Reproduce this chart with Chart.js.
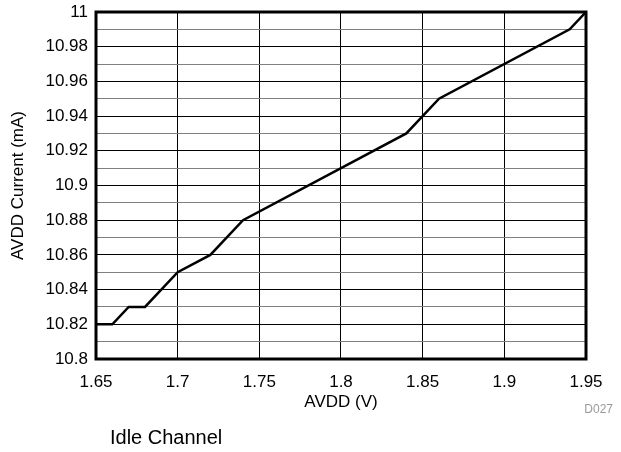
<!DOCTYPE html>
<html>
<head>
<meta charset="utf-8">
<script src="https://cdn.jsdelivr.net/npm/chart.js@4/dist/chart.umd.min.js"></script>
<style>
  body { margin: 0; background: #fff; font-family: "Liberation Sans", Arial, sans-serif; }
  #wrap { position: relative; width: 621px; height: 452px; }
  #note { position: absolute; left: 110px; top: 427px; font-size: 20px; line-height: 20px; color: #000; }
  #code { position: absolute; right: 8px; top: 403px; font-size: 12px; line-height: 12px; color: #999; }
</style>
</head>
<body>
<div id="wrap">
  <canvas id="myChart" width="621" height="452"></canvas>
  <div id="note">Idle Channel</div>
  <div id="code">D027</div>
</div>
<script>
// dados
const voltage = [1.65, 1.66, 1.67, 1.68, 1.70, 1.72, 1.74, 1.84, 1.86, 1.94, 1.95];
const current = [10.82, 10.82, 10.83, 10.83, 10.85, 10.86, 10.88, 10.93, 10.95, 10.99, 11.00];
const xRange = [1.65, 1.95];
const yRange = [10.8, 11.0];

const fmt = v => String(Math.round(v * 100) / 100);

// moldura grossa em volta da área do gráfico
const frame = {
    id: 'frame',
    afterDraw(chart) {
        const a = chart.chartArea;
        const c = chart.ctx;
        c.save();
        c.strokeStyle = '#000';
        c.lineWidth = 3;
        c.strokeRect(a.left, a.top, a.right - a.left, a.bottom - a.top);
        c.restore();
    }
};

const ctx = document.getElementById('myChart').getContext('2d');
const myChart = new Chart(ctx, {
    type: 'line',
    data: {
        datasets: [{
            data: voltage.map((v, i) => ({ x: v, y: current[i] })),
            borderColor: '#000',
            borderWidth: 2.5,
            pointRadius: 0,
            tension: 0
        }]
    },
    options: {
        responsive: false,
        animation: false,
        layout: { padding: { top: 12, right: 35, left: 0, bottom: 0 } },
        plugins: { legend: { display: false }, tooltip: { enabled: false } },
        font: { family: '"Liberation Sans", Arial, sans-serif' },
        scales: {
            x: {
                type: 'linear',
                min: xRange[0],
                max: xRange[1],
                afterFit: s => { s.height = 93; s.paddingLeft = 0; s.paddingRight = 0; },
                border: { display: false },
                grid: { color: '#000', lineWidth: 1, drawTicks: false },
                ticks: {
                    stepSize: 0.05,
                    padding: 13,
                    color: '#000',
                    font: { size: 17, family: '"Liberation Sans", Arial, sans-serif' },
                    callback: fmt
                },
                title: {
                    display: true,
                    text: 'AVDD (V)',
                    color: '#000',
                    font: { size: 17, family: '"Liberation Sans", Arial, sans-serif' },
                    padding: { top: 39, bottom: 39 }
                }
            },
            y: {
                min: yRange[0],
                max: yRange[1],
                afterFit: s => { s.width = 96; s.paddingTop = 0; s.paddingBottom = 0; },
                border: { display: false },
                grid: {
                    drawTicks: false,
                    lineWidth: 1,
                    color: c => (Math.round(c.tick.value * 100) % 2 === 0 ? '#000' : '#808080')
                },
                ticks: {
                    stepSize: 0.01,
                    autoSkip: false,
                    padding: 8,
                    color: '#000',
                    font: { size: 17, family: '"Liberation Sans", Arial, sans-serif' },
                    callback: v => (Math.round(v * 100) % 2 === 0 ? fmt(v) : '')
                },
                title: {
                    display: true,
                    text: 'AVDD Current (mA)',
                    color: '#000',
                    font: { size: 17, family: '"Liberation Sans", Arial, sans-serif' },
                    padding: { top: 8, bottom: 8 }
                }
            }
        }
    },
    plugins: [frame]
});
</script>
</body>
</html>
